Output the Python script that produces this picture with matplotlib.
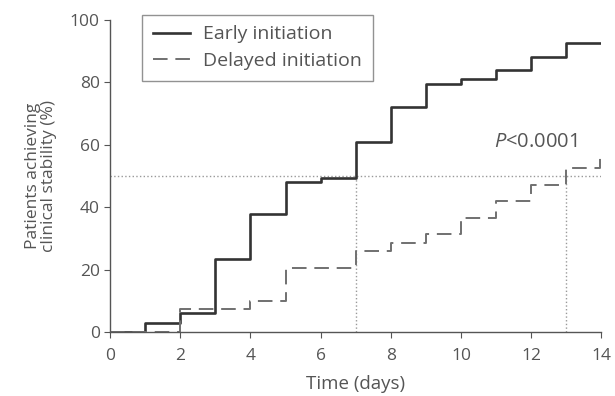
import matplotlib.pyplot as plt

# Kaplan-Meier style curves
early_days = [0, 1, 2, 3, 4, 5, 6, 7, 8, 9, 10, 11, 12, 13, 14]
early_pct = [0, 3, 6, 23.5, 38, 48, 49.5, 61, 72, 79.5, 81, 84, 88, 92.5, 92.5]

delayed_days = [0, 2, 4, 5, 7, 8, 9, 10, 11, 12, 13, 13.95, 14]
delayed_pct = [0, 7.5, 10, 20.5, 26, 28.5, 31.5, 36.5, 42, 47, 52.5, 57.5, 57.5]

median_level = 50
median_days = [7, 13]

xticks = [0, 2, 4, 6, 8, 10, 12, 14]
yticks = [0, 20, 40, 60, 80, 100]

text_col = '#555555'
plt.rcParams['font.family'] = ['Open Sans', 'DejaVu Sans']
plt.rcParams['mathtext.fontset'] = 'custom'
plt.rcParams['mathtext.it'] = 'Open Sans:italic'
plt.rcParams['mathtext.rm'] = 'Open Sans'

fig = plt.figure(figsize=(6.15, 3.96), dpi=100)
ax = fig.add_axes([0.179, 0.161, 0.799, 0.789])

# reference lines at 50%
ax.plot([0, 14], [median_level, median_level], color='#999999', linestyle=':', linewidth=1.0)
for d in median_days:
    ax.plot([d, d], [0, median_level], color='#999999', linestyle=':', linewidth=1.0)

ax.step(early_days, early_pct, where='post', color='#333333', linewidth=1.9,
        label='Early initiation')
ax.step(delayed_days, delayed_pct, where='post', color='#707070', linewidth=1.4,
        dashes=(7.5, 4), label='Delayed initiation')

ax.text(10.95, 61, r'$\mathit{P}$<0.0001', fontsize=14.5, color=text_col,
        va='center', ha='left')

ax.set_xlim(0, 14)
ax.set_ylim(0, 100)
ax.set_xticks(xticks)
ax.set_yticks(yticks)
ax.tick_params(colors=text_col, labelsize=12.5, length=4, width=0.8)
ax.tick_params(axis='x', pad=7)
for s in ['top', 'right']:
    ax.spines[s].set_visible(False)
for s in ['left', 'bottom']:
    ax.spines[s].set_color('#555555')
    ax.spines[s].set_linewidth(1.0)

ax.set_xlabel('Time (days)', color=text_col, fontsize=13.5, labelpad=8)
ax.set_ylabel('Patients achieving\nclinical stability (%)', color=text_col,
              fontsize=12.5, linespacing=1.05, labelpad=9)

leg = ax.legend(loc='upper left', bbox_to_anchor=(0.065, 1.016), fontsize=14,
                frameon=True, fancybox=False, edgecolor='#777777',
                borderaxespad=0, handlelength=1.9, handletextpad=0.7,
                borderpad=0.55, labelspacing=0.45)
for t in leg.get_texts():
    t.set_color(text_col)
leg.get_frame().set_linewidth(1.0)

fig.savefig('out.png', dpi=100)
